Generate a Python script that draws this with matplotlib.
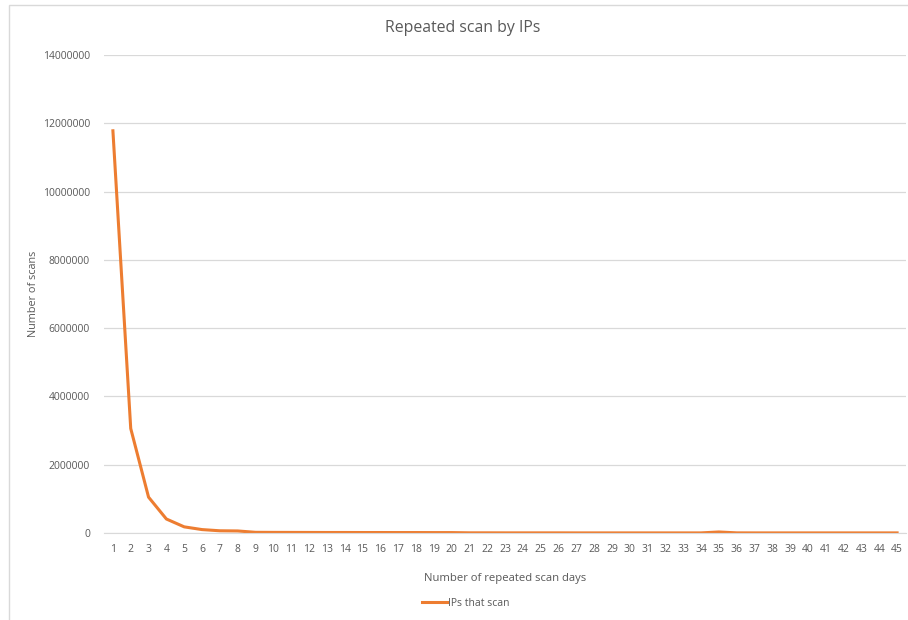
import matplotlib.pyplot as plt
import numpy as np
from matplotlib.patches import Rectangle

# days an IP kept scanning, and how many IPs did so
scan_days = list(range(1, 46))
ip_counts = [11780000, 3060000, 1050000, 410000, 180000, 100000, 65000, 60000,
             20000, 18000, 17000, 16000, 15000, 15000, 14000, 14000, 13000, 13000,
             12000, 12000, 5000, 5000, 4000, 4000, 4000, 4000, 3000, 3000, 3000,
             3000, 3000, 3000, 3000, 3000, 30000, 4000, 3000, 3000, 3000, 3000,
             3000, 3000, 3000, 3000, 3000]
y_ticks = np.arange(0, 14000001, 2000000)

plt.rcParams['font.family'] = ['Open Sans', 'DejaVu Sans']
txt = '#595959'

fig = plt.figure(figsize=(9.08, 6.2), dpi=100)
# chart frame
fig.patches.append(Rectangle((9 / 908, -0.1), 1.2, 1 - 5 / 620 + 0.1,
                             transform=fig.transFigure, fill=False,
                             edgecolor='#d9d9d9', lw=1))

ax = fig.add_axes([104 / 908, 1 - 533 / 620, 802 / 908, 478 / 620])
ax.plot(scan_days, ip_counts, color='#ed7d31', lw=2.2, label='IPs that scan',
        solid_joinstyle='round')
ax.set_xlim(0.5, 45.5)
ax.set_ylim(0, 14000000)
ax.set_yticks(y_ticks)
ax.set_yticklabels([str(v) for v in y_ticks])
ax.set_xticks(scan_days)
ax.grid(axis='y', color='#d9d9d9', lw=0.9)
ax.set_axisbelow(True)
for s in ['top', 'right', 'left']:
    ax.spines[s].set_visible(False)
ax.spines['bottom'].set_color('#d9d9d9')
ax.tick_params(length=0, labelsize=7.5, colors=txt, pad=8)
ax.tick_params(axis='y', pad=10)

fig.text(463 / 908, 1 - 28 / 620, 'Repeated scan by IPs', fontsize=11.4,
         color=txt, ha='center', va='center')
ax.set_xlabel('Number of repeated scan days', fontsize=8.1, color=txt, labelpad=13)
ax.set_ylabel('Number of scans', fontsize=7.8, color=txt, labelpad=3)
ax.legend(loc='center', bbox_to_anchor=(466 / 908, 1 - 603 / 620),
          bbox_transform=fig.transFigure, frameon=False, fontsize=7.5,
          labelcolor=txt, handlelength=2.4, handletextpad=0.1)

plt.savefig('out.png')
